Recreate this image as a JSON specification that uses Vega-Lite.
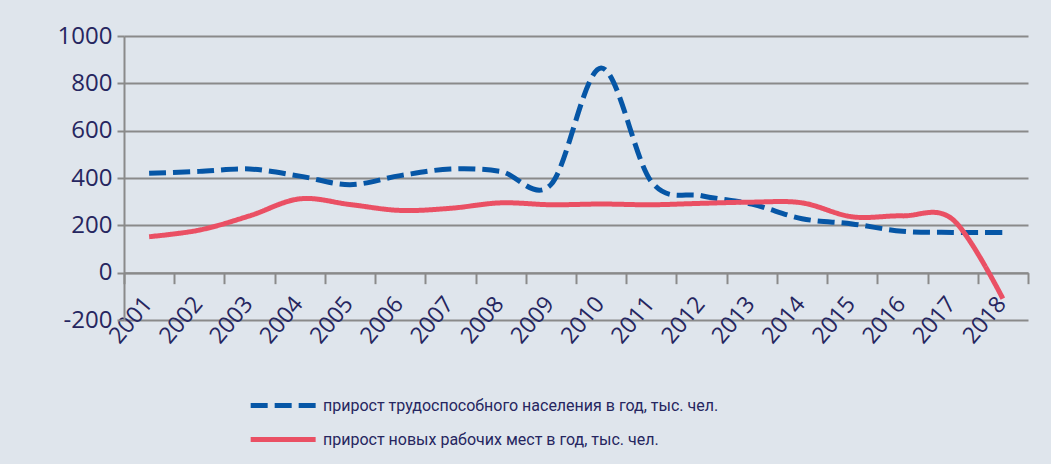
{
  "$schema": "https://vega.github.io/schema/vega-lite/v6.json",
  "width": 904,
  "height": 284,
  "autosize": {"type": "none"},
  "padding": {"left": 124, "top": 36, "right": 23, "bottom": 144},
  "background": "#dfe5ec",
  "config": {"view": {"stroke": null}, "font": "Open Sans"},
  "data": {
    "values": [
      {"year": "2001", "series": "прирост трудоспособного населения в год, тыс. чел.", "value": 420},
      {"year": "2002", "series": "прирост трудоспособного населения в год, тыс. чел.", "value": 428},
      {"year": "2003", "series": "прирост трудоспособного населения в год, тыс. чел.", "value": 438},
      {"year": "2004", "series": "прирост трудоспособного населения в год, тыс. чел.", "value": 408},
      {"year": "2005", "series": "прирост трудоспособного населения в год, тыс. чел.", "value": 372},
      {"year": "2006", "series": "прирост трудоспособного населения в год, тыс. чел.", "value": 410},
      {"year": "2007", "series": "прирост трудоспособного населения в год, тыс. чел.", "value": 438},
      {"year": "2008", "series": "прирост трудоспособного населения в год, тыс. чел.", "value": 428},
      {"year": "2009", "series": "прирост трудоспособного населения в год, тыс. чел.", "value": 372},
      {"year": "2010", "series": "прирост трудоспособного населения в год, тыс. чел.", "value": 865},
      {"year": "2011", "series": "прирост трудоспособного населения в год, тыс. чел.", "value": 385},
      {"year": "2012", "series": "прирост трудоспособного населения в год, тыс. чел.", "value": 325},
      {"year": "2013", "series": "прирост трудоспособного населения в год, тыс. чел.", "value": 290},
      {"year": "2014", "series": "прирост трудоспособного населения в год, тыс. чел.", "value": 228},
      {"year": "2015", "series": "прирост трудоспособного населения в год, тыс. чел.", "value": 206},
      {"year": "2016", "series": "прирост трудоспособного населения в год, тыс. чел.", "value": 175},
      {"year": "2017", "series": "прирост трудоспособного населения в год, тыс. чел.", "value": 170},
      {"year": "2018", "series": "прирост трудоспособного населения в год, тыс. чел.", "value": 170},
      {"year": "2001", "series": "прирост новых рабочих мест в год, тыс. чел.", "value": 152},
      {"year": "2002", "series": "прирост новых рабочих мест в год, тыс. чел.", "value": 180},
      {"year": "2003", "series": "прирост новых рабочих мест в год, тыс. чел.", "value": 240},
      {"year": "2004", "series": "прирост новых рабочих мест в год, тыс. чел.", "value": 312},
      {"year": "2005", "series": "прирост новых рабочих мест в год, тыс. чел.", "value": 288},
      {"year": "2006", "series": "прирост новых рабочих мест в год, тыс. чел.", "value": 263},
      {"year": "2007", "series": "прирост новых рабочих мест в год, тыс. чел.", "value": 272},
      {"year": "2008", "series": "прирост новых рабочих мест в год, тыс. чел.", "value": 295},
      {"year": "2009", "series": "прирост новых рабочих мест в год, тыс. чел.", "value": 287},
      {"year": "2010", "series": "прирост новых рабочих мест в год, тыс. чел.", "value": 290},
      {"year": "2011", "series": "прирост новых рабочих мест в год, тыс. чел.", "value": 287},
      {"year": "2012", "series": "прирост новых рабочих мест в год, тыс. чел.", "value": 293},
      {"year": "2013", "series": "прирост новых рабочих мест в год, тыс. чел.", "value": 298},
      {"year": "2014", "series": "прирост новых рабочих мест в год, тыс. чел.", "value": 295},
      {"year": "2015", "series": "прирост новых рабочих мест в год, тыс. чел.", "value": 236},
      {"year": "2016", "series": "прирост новых рабочих мест в год, тыс. чел.", "value": 240},
      {"year": "2017", "series": "прирост новых рабочих мест в год, тыс. чел.", "value": 225},
      {"year": "2018", "series": "прирост новых рабочих мест в год, тыс. чел.", "value": -110}
    ]
  },
  "mark": {"type": "line", "interpolate": "cardinal", "strokeWidth": 5, "strokeCap": "butt"},
  "encoding": {
    "x": {
      "field": "year",
      "type": "ordinal",
      "scale": {"type": "band", "paddingInner": 0, "paddingOuter": 0},
      "axis": {
        "title": null,
        "orient": "bottom",
        "offset": -47.33,
        "grid": false,
        "tickBand": "extent",
        "labelAngle": -50,
        "labelAlign": "right",
        "labelBaseline": "top",
        "labelFontSize": 23,
        "labelColor": "#262660",
        "labelPadding": 9,
        "labelOffset": -10,
        "labelOverlap": false,
        "tickSize": 11,
        "tickColor": "#8a8a8a",
        "tickWidth": 2,
        "domainColor": "#8a8a8a",
        "domainWidth": 2
      }
    },
    "y": {
      "field": "value",
      "type": "quantitative",
      "scale": {"domain": [-200, 1000], "nice": false, "zero": false},
      "axis": {
        "title": null,
        "values": [-200, 0, 200, 400, 600, 800, 1000],
        "labelExpr": "'' + datum.value",
        "labelFontSize": 24,
        "labelColor": "#262660",
        "labelPadding": 5,
        "tickSize": 7,
        "tickColor": "#8a8a8a",
        "tickWidth": 2,
        "domainColor": "#8a8a8a",
        "domainWidth": 2,
        "gridColor": "#8a8a8a",
        "gridWidth": 2
      }
    },
    "color": {
      "field": "series",
      "type": "nominal",
      "scale": {
        "domain": ["прирост трудоспособного населения в год, тыс. чел.", "прирост новых рабочих мест в год, тыс. чел."],
        "range": ["#0656a6", "#ea5064"]
      },
      "legend": {
        "title": null,
        "orient": "none",
        "legendX": 124,
        "legendY": 356,
        "direction": "vertical",
        "symbolType": "M-1,0H5",
        "symbolSize": 469,
        "symbolStrokeWidth": 5,
        "rowPadding": 10,
        "labelFontSize": 16,
        "labelFont": "Roboto",
        "labelColor": "#262660",
        "labelLimit": 0,
        "labelOffset": 48
      }
    },
    "strokeDash": {
      "field": "series",
      "type": "nominal",
      "scale": {
        "domain": ["прирост трудоспособного населения в год, тыс. чел.", "прирост новых рабочих мест в год, тыс. чел."],
        "range": [[17, 7], [1, 0]]
      },
      "legend": {
        "title": null,
        "orient": "none",
        "legendX": 124,
        "legendY": 356,
        "direction": "vertical",
        "symbolType": "M-1,0H5",
        "symbolSize": 469,
        "symbolStrokeWidth": 5,
        "rowPadding": 10,
        "labelFontSize": 16,
        "labelFont": "Roboto",
        "labelColor": "#262660",
        "labelLimit": 0,
        "labelOffset": 48
      }
    }
  }
}
